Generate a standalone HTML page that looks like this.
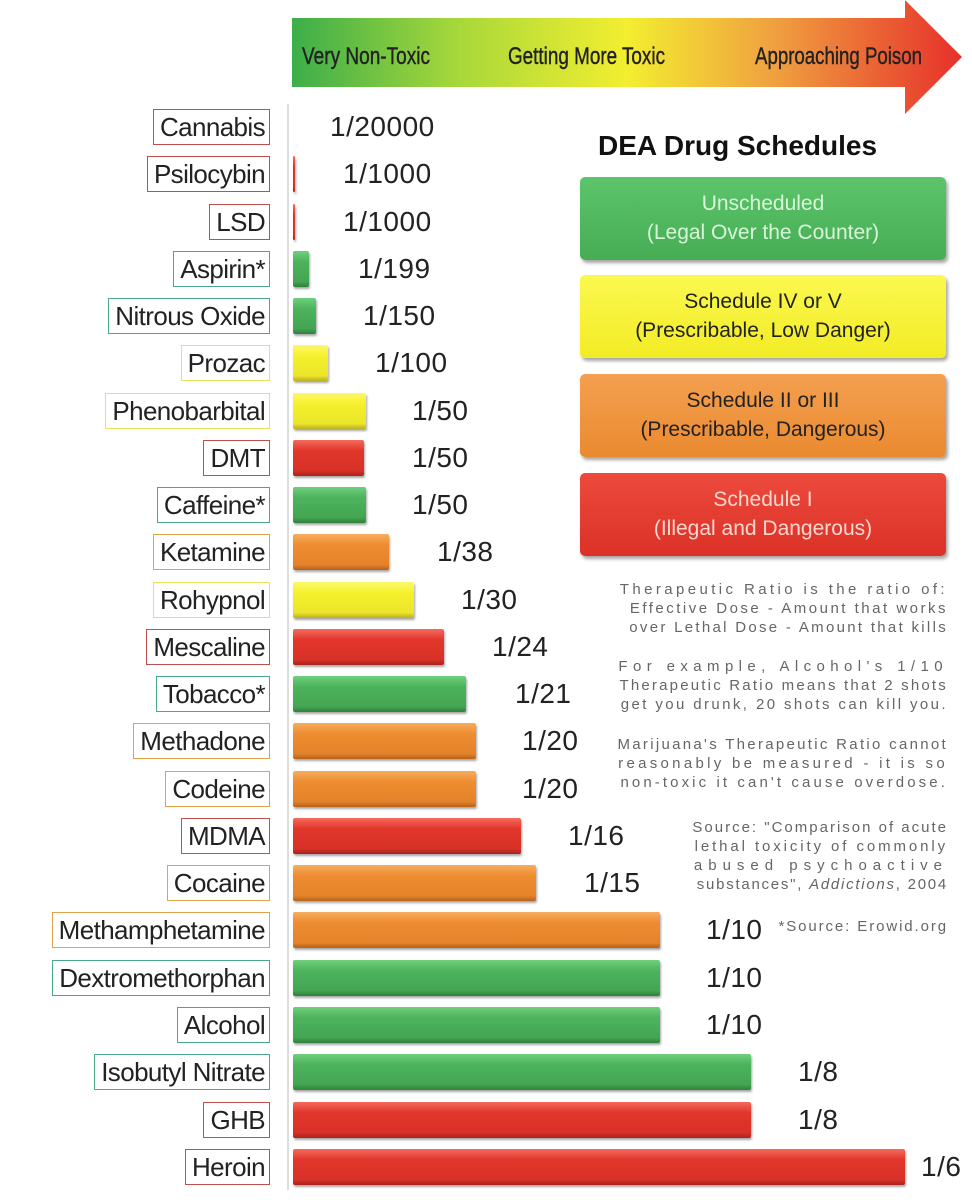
<!DOCTYPE html>
<html><head><meta charset="utf-8"><style>
body{margin:0;width:972px;height:1200px;background:#fff;position:relative;overflow:hidden;font-family:"Liberation Sans",sans-serif}
.l{position:absolute;right:702px;height:34px;line-height:35px;border:1.5px solid;padding:0 4px 0 6px;font-size:26px;letter-spacing:-0.6px;color:#222;background:#fff}
.r{border-color:#c0504d}.g{border-color:#4aa888}.y{border-color:#ece25a}.o{border-color:#e3a24a}
.b{position:absolute;left:293px;height:36px;border-radius:2px;box-shadow:1px 2px 2px rgba(0,0,0,.35)}
.bg{background:linear-gradient(#6fcf7c,#4cb35c 30%,#44a553 85%,#2f7f3c)}
.by{background:linear-gradient(#fbf86a,#f5f12c 30%,#ece52a 85%,#b8b020)}
.bo{background:linear-gradient(#f7ad60,#ee8c30 30%,#e5832b 85%,#b5621c)}
.br{background:linear-gradient(#f36a5c,#e2362b 30%,#d83128 85%,#a8221b)}
.v{position:absolute;font-size:28px;letter-spacing:0.5px;color:#222;line-height:32px}
.leg{position:absolute;left:580px;width:366px;height:83px;border-radius:5px;text-align:center;font-family:"Liberation Sans",sans-serif;font-size:21px;line-height:29px;padding-top:12px;box-sizing:border-box;box-shadow:2px 3px 3px rgba(0,0,0,.35)}
.n{position:absolute;right:24px;font-family:"Liberation Sans",sans-serif;font-size:15px;color:#666;text-align:right;white-space:nowrap;line-height:19px}
</style></head><body>
<svg style="position:absolute;left:0;top:0" width="972" height="130">
<defs><linearGradient id="ag" x1="292" x2="962" y1="0" y2="0" gradientUnits="userSpaceOnUse">
<stop offset="0" stop-color="#3cae4a"/><stop offset="0.25" stop-color="#a8d83a"/><stop offset="0.5" stop-color="#f3ee30"/><stop offset="0.72" stop-color="#f0a040"/><stop offset="1" stop-color="#e6302a"/></linearGradient></defs>
<polygon points="292,18 905,18 905,0 962,57 905,114 905,87 292,87" fill="url(#ag)"/>
<g font-family="Liberation Sans" font-size="24" fill="#222" stroke="#222" stroke-width="0.4">
<text x="302" y="64" textLength="128" lengthAdjust="spacingAndGlyphs">Very Non-Toxic</text>
<text x="508" y="64" textLength="157" lengthAdjust="spacingAndGlyphs">Getting More Toxic</text>
<text x="755" y="64" textLength="167" lengthAdjust="spacingAndGlyphs">Approaching Poison</text>
</g>
</svg>
<div style="position:absolute;left:287px;top:104px;width:2px;height:1086px;background:#ddd"></div>

<div class="l r" style="top:109px">Cannabis</div>
<div class="l r" style="top:156px">Psilocybin</div>
<div class="l r" style="top:204px">LSD</div>
<div class="l g" style="top:251px">Aspirin*</div>
<div class="l g" style="top:298px">Nitrous Oxide</div>
<div class="l y" style="top:345px">Prozac</div>
<div class="l y" style="top:393px">Phenobarbital</div>
<div class="l r" style="top:440px">DMT</div>
<div class="l g" style="top:487px">Caffeine*</div>
<div class="l o" style="top:534px">Ketamine</div>
<div class="l y" style="top:582px">Rohypnol</div>
<div class="l r" style="top:629px">Mescaline</div>
<div class="l g" style="top:676px">Tobacco*</div>
<div class="l o" style="top:723px">Methadone</div>
<div class="l o" style="top:771px">Codeine</div>
<div class="l r" style="top:818px">MDMA</div>
<div class="l o" style="top:865px">Cocaine</div>
<div class="l o" style="top:912px">Methamphetamine</div>
<div class="l g" style="top:960px">Dextromethorphan</div>
<div class="l g" style="top:1007px">Alcohol</div>
<div class="l g" style="top:1054px">Isobutyl Nitrate</div>
<div class="l r" style="top:1102px">GHB</div>
<div class="l r" style="top:1149px">Heroin</div>

<div class="b br" style="top:156px;width:2px"></div>
<div class="b br" style="top:204px;width:2px"></div>
<div class="b bg" style="top:251px;width:16px"></div>
<div class="b bg" style="top:298px;width:23px"></div>
<div class="b by" style="top:345px;width:35px"></div>
<div class="b by" style="top:393px;width:73px"></div>
<div class="b br" style="top:440px;width:71px"></div>
<div class="b bg" style="top:487px;width:73px"></div>
<div class="b bo" style="top:534px;width:96px"></div>
<div class="b by" style="top:582px;width:121px"></div>
<div class="b br" style="top:629px;width:151px"></div>
<div class="b bg" style="top:676px;width:173px"></div>
<div class="b bo" style="top:723px;width:183px"></div>
<div class="b bo" style="top:771px;width:183px"></div>
<div class="b br" style="top:818px;width:228px"></div>
<div class="b bo" style="top:865px;width:243px"></div>
<div class="b bo" style="top:912px;width:367px"></div>
<div class="b bg" style="top:960px;width:367px"></div>
<div class="b bg" style="top:1007px;width:367px"></div>
<div class="b bg" style="top:1054px;width:458px"></div>
<div class="b br" style="top:1102px;width:458px"></div>
<div class="b br" style="top:1149px;width:612px"></div>

<div class="v" style="left:330px;top:111px">1/20000</div>
<div class="v" style="left:343px;top:158px">1/1000</div>
<div class="v" style="left:343px;top:206px">1/1000</div>
<div class="v" style="left:358px;top:253px">1/199</div>
<div class="v" style="left:363px;top:300px">1/150</div>
<div class="v" style="left:375px;top:347px">1/100</div>
<div class="v" style="left:412px;top:395px">1/50</div>
<div class="v" style="left:412px;top:442px">1/50</div>
<div class="v" style="left:412px;top:489px">1/50</div>
<div class="v" style="left:437px;top:536px">1/38</div>
<div class="v" style="left:461px;top:584px">1/30</div>
<div class="v" style="left:492px;top:631px">1/24</div>
<div class="v" style="left:515px;top:678px">1/21</div>
<div class="v" style="left:522px;top:725px">1/20</div>
<div class="v" style="left:522px;top:773px">1/20</div>
<div class="v" style="left:568px;top:820px">1/16</div>
<div class="v" style="left:584px;top:867px">1/15</div>
<div class="v" style="left:706px;top:914px">1/10</div>
<div class="v" style="left:706px;top:962px">1/10</div>
<div class="v" style="left:706px;top:1009px">1/10</div>
<div class="v" style="left:798px;top:1056px">1/8</div>
<div class="v" style="left:798px;top:1104px">1/8</div>
<div class="v" style="left:921px;top:1151px">1/6</div>

<div style="position:absolute;left:598px;top:130px;font-family:'Liberation Sans',sans-serif;font-weight:bold;font-size:28px;color:#111">DEA Drug Schedules</div>
<div class="leg" style="top:177px;background:linear-gradient(#5cc46a,#46ad55);color:#d8f5d8">Unscheduled<br>(Legal Over the Counter)</div>
<div class="leg" style="top:275px;background:linear-gradient(#fbf850,#f2ec25);color:#222">Schedule IV or V<br>(Prescribable, Low Danger)</div>
<div class="leg" style="top:374px;background:linear-gradient(#f4a050,#ea8a30);color:#222">Schedule II or III<br>(Prescribable, Dangerous)</div>
<div class="leg" style="top:473px;background:linear-gradient(#ec4a3c,#dc3128);color:#fbd8d0">Schedule I<br>(Illegal and Dangerous)</div>

<div class="n" style="top:580px;letter-spacing:3.4px">Therapeutic Ratio is the ratio of:</div>
<div class="n" style="top:599px;letter-spacing:2.5px">Effective Dose - Amount that works</div>
<div class="n" style="top:618px;letter-spacing:2.3px">over Lethal Dose - Amount that kills</div>
<div class="n" style="top:657px;letter-spacing:5.4px">For example, Alcohol's 1/10</div>
<div class="n" style="top:676px;letter-spacing:2.2px">Therapeutic Ratio means that 2 shots</div>
<div class="n" style="top:695px;letter-spacing:2.4px">get you drunk, 20 shots can kill you.</div>
<div class="n" style="top:735px;letter-spacing:2.3px">Marijuana's Therapeutic Ratio cannot</div>
<div class="n" style="top:754px;letter-spacing:3.3px">reasonably be measured - it is so</div>
<div class="n" style="top:773px;letter-spacing:3.1px">non-toxic it can't cause overdose.</div>
<div class="n" style="top:818px;letter-spacing:2.0px">Source: "Comparison of acute</div>
<div class="n" style="top:837px;letter-spacing:2.9px">lethal toxicity of commonly</div>
<div class="n" style="top:856px;letter-spacing:6.0px">abused psychoactive</div>
<div class="n" style="top:875px;letter-spacing:1.75px">substances", <i>Addictions</i>, 2004</div>
<div class="n" style="top:917px;letter-spacing:1.9px">*Source: Erowid.org</div>
</body></html>
